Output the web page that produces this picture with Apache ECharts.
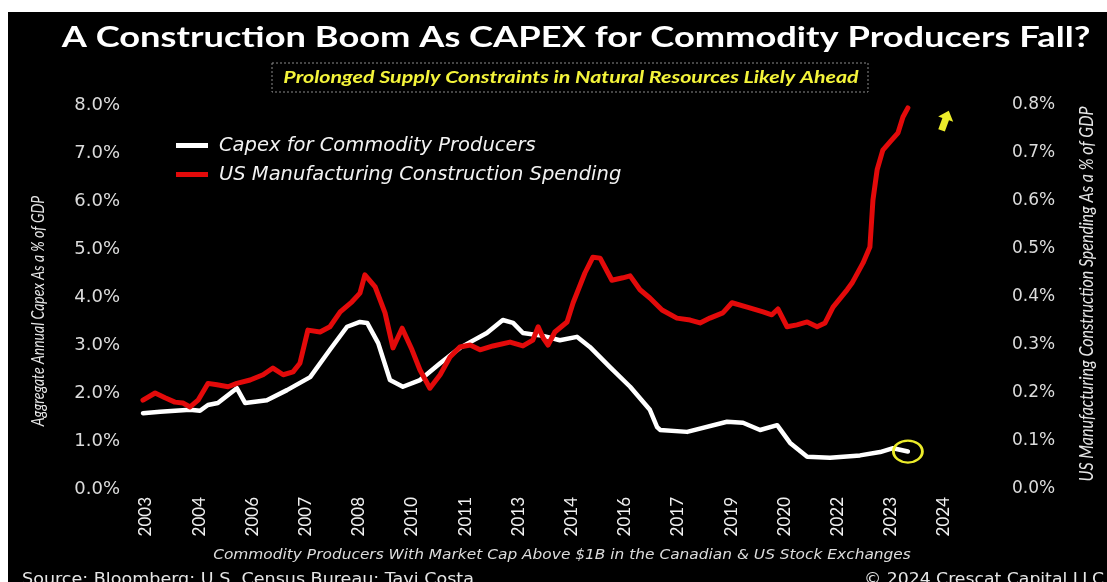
<!DOCTYPE html>
<html>
<head>
<meta charset="utf-8">
<script src="https://cdn.jsdelivr.net/npm/echarts@6/dist/echarts.min.js"></script>
<style>
  html, body { margin: 0; padding: 0; background: #ffffff; }
  #chart { width: 1107px; height: 582px; }
</style>
</head>
<body>
<div id="chart"></div>
<script>
// Aggregate annual capex of commodity producers, % of GDP (left axis)
const capexYears = [2003.32, 2003.77, 2004.56, 2004.82, 2005.03, 2005.29, 2005.79, 2006.01, 2006.58, 2007.11,
  2007.72, 2008.24, 2008.69, 2009.03, 2009.22, 2009.51, 2009.82, 2010.16, 2010.61, 2011.14,
  2011.66, 2011.93, 2012.37, 2012.79, 2013.06, 2013.32, 2013.85, 2014.29, 2014.74, 2015.08,
  2015.61, 2016.14, 2016.66, 2016.85, 2016.93, 2017.64, 2018.69, 2019.11, 2019.56, 2020.01,
  2020.35, 2020.80, 2021.40, 2022.19, 2022.72, 2023.06, 2023.45];
const capexValues = [1.58, 1.61, 1.65, 1.63, 1.75, 1.79, 2.10, 1.79, 1.85, 2.06,
  2.33, 2.90, 3.38, 3.48, 3.46, 3.04, 2.27, 2.13, 2.27, 2.62,
  2.94, 3.06, 3.25, 3.52, 3.46, 3.25, 3.19, 3.10, 3.17, 2.96,
  2.54, 2.13, 1.65, 1.29, 1.23, 1.19, 1.40, 1.38, 1.23, 1.33,
  0.96, 0.67, 0.65, 0.70, 0.77, 0.85, 0.78];

// US manufacturing construction spending, % of GDP (right axis)
const mfgYears = [2003.32, 2003.64, 2003.90, 2004.16, 2004.37, 2004.56, 2004.77, 2005.03, 2005.27, 2005.56,
  2005.79, 2006.14, 2006.48, 2006.74, 2007.01, 2007.27, 2007.45, 2007.66, 2007.98, 2008.24,
  2008.51, 2008.82, 2009.03, 2009.16, 2009.43, 2009.69, 2009.90, 2010.14, 2010.40, 2010.61,
  2010.87, 2011.14, 2011.40, 2011.66, 2011.93, 2012.19, 2012.53, 2012.98, 2013.32, 2013.58,
  2013.72, 2013.85, 2013.98, 2014.16, 2014.48, 2014.64, 2014.95, 2015.16, 2015.35, 2015.66,
  2015.95, 2016.14, 2016.40, 2016.66, 2016.98, 2017.37, 2017.72, 2017.98, 2018.24, 2018.58,
  2018.82, 2019.22, 2019.64, 2019.87, 2020.03, 2020.27, 2020.53, 2020.80, 2021.06, 2021.27,
  2021.48, 2021.85, 2021.98, 2022.27, 2022.45, 2022.53, 2022.64, 2022.79, 2022.98, 2023.19,
  2023.32, 2023.45];
const mfgValues = [0.185, 0.200, 0.190, 0.181, 0.179, 0.171, 0.185, 0.220, 0.217, 0.213,
  0.220, 0.227, 0.238, 0.252, 0.238, 0.244, 0.262, 0.331, 0.327, 0.338,
  0.369, 0.390, 0.408, 0.446, 0.421, 0.367, 0.294, 0.335, 0.290, 0.248,
  0.210, 0.238, 0.275, 0.296, 0.300, 0.290, 0.298, 0.306, 0.298, 0.310,
  0.338, 0.315, 0.300, 0.327, 0.348, 0.388, 0.450, 0.483, 0.481, 0.435,
  0.440, 0.444, 0.415, 0.398, 0.373, 0.356, 0.352, 0.346, 0.356, 0.367,
  0.388, 0.379, 0.369, 0.363, 0.375, 0.338, 0.342, 0.348, 0.338, 0.346,
  0.379, 0.415, 0.429, 0.471, 0.504, 0.602, 0.665, 0.706, 0.723, 0.742,
  0.775, 0.794];

// Year labels shown along the bottom axis, one every 1.4 years
const xTickLabels = ['2003', '2004', '2006', '2007', '2008', '2010', '2011', '2013',
  '2014', '2016', '2017', '2019', '2020', '2022', '2023', '2024'];
const xTickStart = 2003.4;
const xTickStep = 1.4;

const seriesNames = ['Capex for Commodity Producers', 'US Manufacturing Construction Spending'];

const capexData = capexYears.map((x, i) => [x, capexValues[i]]);
const mfgData = mfgYears.map((x, i) => [x, mfgValues[i]]);
const xTickValues = xTickLabels.map((_, i) => +(xTickStart + i * xTickStep).toFixed(2));
const lastCapex = capexData[capexData.length - 1];

const YELLOW = '#ecec2a';
const LABEL_GREY = '#dcdcdc';

const chart = echarts.init(document.getElementById('chart'), null, { renderer: 'canvas' });

chart.setOption({
  backgroundColor: '#000000',
  animation: false,
  grid: { left: 128, right: 103, top: 105, bottom: 93 },
  legend: {
    orient: 'vertical',
    left: 171,
    top: 129,
    itemGap: 6,
    itemWidth: 32,
    itemHeight: 5,
    icon: 'rect',
    data: seriesNames,
    textStyle: {
      color: '#f2f2f2',
      fontFamily: 'DejaVu Sans',
      fontStyle: 'italic',
      fontSize: 19.5,
      lineHeight: 23,
      padding: [0, 0, 0, 6]
    }
  },
  xAxis: {
    type: 'value',
    min: 2002.926,
    max: 2025.979,
    splitLine: { show: false },
    axisLine: { show: false },
    axisTick: { show: false },
    axisLabel: {
      customValues: xTickValues,
      rotate: 90,
      margin: 8,
      color: '#f0f0f0',
      fontFamily: 'Lato',
      fontSize: 17,
      formatter: v => xTickLabels[Math.round((v - xTickStart) / xTickStep)] || ''
    }
  },
  yAxis: [
    {
      type: 'value',
      min: 0,
      max: 8,
      interval: 1,
      splitLine: { show: false },
      axisLine: { show: false },
      axisTick: { show: false },
      axisLabel: {
        margin: 8,
        color: LABEL_GREY,
        fontFamily: 'DejaVu Sans',
        fontSize: 18,
        formatter: v => v.toFixed(1) + '%'
      }
    },
    {
      type: 'value',
      min: 0,
      max: 0.8,
      interval: 0.1,
      position: 'right',
      splitLine: { show: false },
      axisLine: { show: false },
      axisTick: { show: false },
      axisLabel: {
        margin: 8,
        color: LABEL_GREY,
        fontFamily: 'DejaVu Sans',
        fontSize: 17,
        formatter: v => v.toFixed(1) + '%'
      }
    }
  ],
  series: [
    {
      name: seriesNames[0],
      type: 'line',
      yAxisIndex: 0,
      data: capexData,
      showSymbol: false,
      color: '#ffffff',
      lineStyle: { color: '#ffffff', width: 4.5, join: 'round', cap: 'round' },
      markPoint: {
        silent: true,
        symbol: 'circle',
        symbolSize: [29, 22],
        itemStyle: { color: 'rgba(0,0,0,0)', borderColor: YELLOW, borderWidth: 2.5 },
        label: { show: false },
        data: [{ coord: lastCapex }]
      }
    },
    {
      name: seriesNames[1],
      type: 'line',
      yAxisIndex: 1,
      data: mfgData,
      showSymbol: false,
      color: '#e30a0a',
      lineStyle: { color: '#e30a0a', width: 5, join: 'round', cap: 'round' }
    }
  ],
  graphic: [
    // white margin along the top and left edges
    { type: 'rect', shape: { x: 0, y: 0, width: 1107, height: 12 }, style: { fill: '#ffffff' }, z: 100 },
    { type: 'rect', shape: { x: 0, y: 0, width: 8, height: 582 }, style: { fill: '#ffffff' }, z: 100 },
    {
      type: 'text', x: 576, y: 38, scaleX: 1.25, z: 10,
      style: {
        text: 'A Construction Boom As CAPEX for Commodity Producers Fall?',
        fill: '#ffffff', font: 'bold 29px Lato', textAlign: 'center', textVerticalAlign: 'middle'
      }
    },
    {
      type: 'rect', z: 10,
      shape: { x: 272, y: 63, width: 596, height: 29 },
      style: { fill: 'none', stroke: '#8a8a8a', lineWidth: 1, lineDash: [2, 2] }
    },
    {
      type: 'text', x: 571, y: 78, scaleX: 1.26, z: 10,
      style: {
        text: 'Prolonged Supply Constraints in Natural Resources Likely Ahead',
        fill: '#f4f43a', font: 'italic bold 17px Lato', textAlign: 'center', textVerticalAlign: 'middle'
      }
    },
    {
      type: 'text', x: 39, y: 311, rotation: Math.PI / 2, scaleY: 1.2, z: 10,
      style: {
        text: 'Aggregate Annual Capex As a % of GDP',
        fill: '#e6e6e6', font: 'italic 14px Lato', textAlign: 'center', textVerticalAlign: 'middle'
      }
    },
    {
      type: 'text', x: 1087, y: 294, rotation: Math.PI / 2, scaleY: 1.2, z: 10,
      style: {
        text: 'US Manufacturing Construction Spending As a % of GDP',
        fill: '#e6e6e6', font: 'italic 16px Lato', textAlign: 'center', textVerticalAlign: 'middle'
      }
    },
    {
      // upward arrow beside the end of the construction spending line
      type: 'polygon', x: 945, y: 121, rotation: -0.35, z: 10,
      shape: { points: [[0, -11], [8, -2], [3.5, -2], [3.5, 10], [-3.5, 10], [-3.5, -2], [-8, -2]] },
      style: { fill: YELLOW }
    },
    {
      type: 'text', x: 562, y: 555, scaleX: 1.1, z: 10,
      style: {
        text: 'Commodity Producers With Market Cap Above $1B in the Canadian & US Stock Exchanges',
        fill: '#dddddd', font: 'italic 14px "DejaVu Sans"', textAlign: 'center', textVerticalAlign: 'middle'
      }
    },
    {
      type: 'text', x: 22, y: 580, scaleX: 1.17, z: 10,
      style: {
        text: 'Source: Bloomberg; U.S. Census Bureau; Tavi Costa',
        fill: '#e6e6e6', font: '15px "DejaVu Sans"', textAlign: 'left', textVerticalAlign: 'middle'
      }
    },
    {
      type: 'text', x: 1104, y: 580, scaleX: 1.15, z: 10,
      style: {
        text: '\u00a9 2024 Crescat Capital LLC',
        fill: '#e6e6e6', font: '15px "DejaVu Sans"', textAlign: 'right', textVerticalAlign: 'middle'
      }
    }
  ]
});
</script>
</body>
</html>
